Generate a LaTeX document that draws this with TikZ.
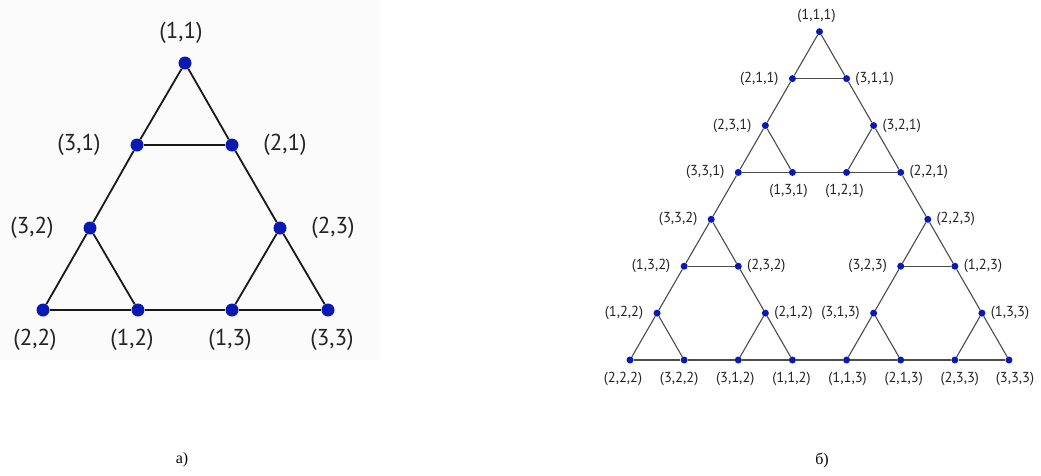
\documentclass[tikz,border=0pt]{standalone}
\usepackage{fontspec}
\setmainfont{Liberation Serif}
\newfontfamily\lblfont{PT Sans}
\definecolor{dotblue}{RGB}{10,25,180}
\definecolor{lbltext}{RGB}{35,35,35}
\tikzset{
  bigdot/.style={circle,fill=dotblue,inner sep=0pt,minimum size=13pt},
  smalldot/.style={circle,fill=dotblue,inner sep=0pt,minimum size=7pt},
  bigedge/.style={line width=1.8pt,black!90},
  smalledge/.style={line width=1.1pt,black!70},
  biglbl/.style={font=\lblfont\fontsize{23}{23}\selectfont,text=lbltext,inner sep=0pt},
  smalllbl/.style={font=\lblfont\fontsize{14.5}{14.5}\selectfont,text=lbltext,inner sep=0pt},
  caption/.style={font=\fontsize{16}{16}\selectfont,inner sep=0pt}
}
\newcommand{\RX}[1]{630+54.14*(#1)}
\newcommand{\RY}[1]{360-46.9*(#1)}
\begin{document}
\begin{tikzpicture}[x=1pt,y=-1pt]
\useasboundingbox[fill=white] (0,0) rectangle (1041,475);
\fill[black!1.5] (0,0) rectangle (380,360);

% ---------- left figure ----------
\node[bigdot] (L11) at (185,63) {};
\node[bigdot] (L31) at (137,145) {};
\node[bigdot] (L21) at (232,145) {};
\node[bigdot] (L32) at (90,228) {};
\node[bigdot] (L23) at (280,228) {};
\node[bigdot] (L22) at (43,310) {};
\node[bigdot] (L12) at (138,310) {};
\node[bigdot] (L13) at (232,310) {};
\node[bigdot] (L33) at (328,310) {};

\draw[bigedge] (L11) -- (L31); \draw[bigedge] (L11) -- (L21); \draw[bigedge] (L31) -- (L21);
\draw[bigedge] (L31) -- (L32); \draw[bigedge] (L21) -- (L23);
\draw[bigedge] (L32) -- (L22); \draw[bigedge] (L32) -- (L12); \draw[bigedge] (L22) -- (L12);
\draw[bigedge] (L12) -- (L13);
\draw[bigedge] (L23) -- (L13); \draw[bigedge] (L23) -- (L33); \draw[bigedge] (L13) -- (L33);

\node[biglbl] (tL11) at (181,33) {(1,1)};
\node[biglbl] (tL31) at (79,145) {(3,1)};
\node[biglbl] (tL21) at (285,145) {(2,1)};
\node[biglbl] (tL32) at (32,228) {(3,2)};
\node[biglbl] (tL23) at (333,228) {(2,3)};
\node[biglbl] (tL22) at (35,340) {(2,2)};
\node[biglbl] (tL12) at (132,340) {(1,2)};
\node[biglbl] (tL13) at (230,340) {(1,3)};
\node[biglbl] (tL33) at (332,340) {(3,3)};

% ---------- right figure ----------
\foreach \n/\u/\l in {111/3.5/7, 211/3/6, 311/4/6, 231/2.5/5, 321/4.5/5,
  331/2/4, 131/3/4, 121/4/4, 221/5/4, 332/1.5/3, 223/5.5/3,
  132/1/2, 232/2/2, 323/5/2, 123/6/2, 122/0.5/1, 212/2.5/1, 313/4.5/1, 133/6.5/1,
  222/0/0, 322/1/0, 312/2/0, 112/3/0, 113/4/0, 213/5/0, 233/6/0, 333/7/0}
  \node[smalldot] (R\n) at ({\RX{\u}},{\RY{\l}}) {};

\foreach \a/\b in {111/211, 111/311, 211/311, 211/231, 311/321,
  231/331, 231/131, 331/131, 131/121, 321/121, 321/221, 121/221,
  331/332, 221/223,
  332/132, 332/232, 132/232, 132/122, 232/212, 122/222, 122/322, 222/322,
  322/312, 212/312, 212/112, 312/112,
  112/113,
  223/323, 223/123, 323/123, 323/313, 123/133, 313/113, 313/213, 113/213,
  213/233, 133/233, 133/333, 233/333}
  \draw[smalledge] (R\a) -- (R\b);

% labels on the left of nodes
\foreach \n/\t in {211/{(2,1,1)}, 231/{(2,3,1)}, 331/{(3,3,1)}, 332/{(3,3,2)},
  132/{(1,3,2)}, 323/{(3,2,3)}, 122/{(1,2,2)}, 313/{(3,1,3)}}
  \node[smalllbl,anchor=east] (t\n) at ([xshift=-10pt]R\n.west) {\t};
% labels on the right of nodes
\foreach \n/\t in {311/{(3,1,1)}, 321/{(3,2,1)}, 221/{(2,2,1)}, 223/{(2,2,3)},
  232/{(2,3,2)}, 123/{(1,2,3)}, 212/{(2,1,2)}, 133/{(1,3,3)}}
  \node[smalllbl,anchor=west] (t\n) at ([xshift=5pt]R\n.east) {\t};
% labels below nodes
\foreach \n/\t/\dx in {131/{(1,3,1)}/-4, 121/{(1,2,1)}/-2,
  222/{(2,2,2)}/-7, 322/{(3,2,2)}/-5, 312/{(3,1,2)}/-3, 112/{(1,1,2)}/-1,
  113/{(1,1,3)}/1, 213/{(2,1,3)}/3, 233/{(2,3,3)}/5, 333/{(3,3,3)}/6}
  \node[smalllbl] (t\n) at ([xshift=\dx pt,yshift=-19pt]R\n.center) {\t};
\node[smalllbl] (t111) at ([xshift=-3pt,yshift=16pt]R111.center) {(1,1,1)};

% ---------- captions ----------
\node[caption] (capa) at (182,460) {а)};
\node[caption] (capb) at (822,460) {б)};
\end{tikzpicture}
\end{document}
